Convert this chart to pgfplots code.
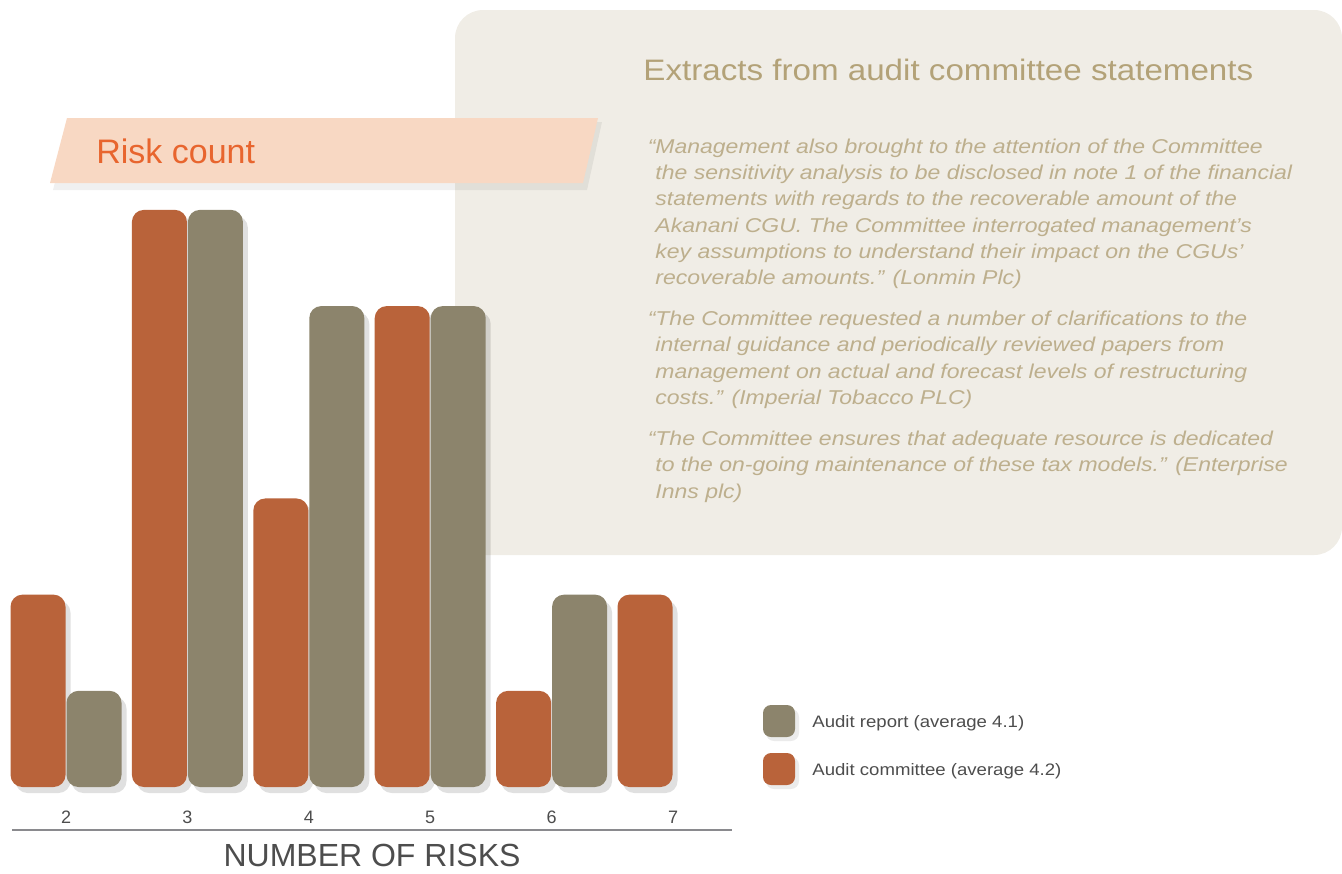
\documentclass[border=0pt]{standalone}
\usepackage{pgfplots}
\pgfplotsset{compat=1.18}
\usepackage{fontspec}
\setmainfont{Liberation Sans}
\newfontfamily\widefont{Liberation Sans}[FakeStretch=1.15]
\newfontfamily\legfont{Liberation Sans}[FakeStretch=1.12]

\definecolor{barorange}{HTML}{B9633A}
\definecolor{bargray}{HTML}{8C846C}
\definecolor{panelbg}{HTML}{F0EDE6}
\definecolor{gold}{HTML}{B3A278}
\definecolor{quotetxt}{HTML}{BDAF8D}
\definecolor{bannerbg}{HTML}{F8D8C3}
\definecolor{bannertxt}{HTML}{E8652E}
\definecolor{axisgray}{HTML}{8A8A8E}
\definecolor{labelgray}{HTML}{4D4D4D}

% one line of quoted text, y is the baseline in px
\newcommand\qline[2]{\node[anchor=base west, inner sep=0, text=quotetxt,
  font=\widefont\fontsize{10}{12}\selectfont\itshape] at (655,#1) {#2};}

\begin{document}
\begin{tikzpicture}
\begin{scope}[x=0.5pt,y=-0.5pt]
\path[use as bounding box] (0,0) rectangle (1342,870);
% panel
\fill[panelbg, rounded corners=14pt] (455,10) rectangle (1342,555);
\node[anchor=base west, inner sep=0, text=gold, font=\legfont\fontsize{14.8}{17}\selectfont]
  at (643,80) {Extracts from audit committee statements};
\qline{153}{\llap{“}Management also brought to the attention of the Committee}
\qline{179}{the sensitivity analysis to be disclosed in note 1 of the financial}
\qline{205}{statements with regards to the recoverable amount of the}
\qline{232}{Akanani CGU. The Committee interrogated management’s}
\qline{258}{key assumptions to understand their impact on the CGUs’}
\qline{284}{recoverable amounts.” (Lonmin Plc)}
\qline{325}{\llap{“}The Committee requested a number of clarifications to the}
\qline{351}{internal guidance and periodically reviewed papers from}
\qline{378}{management on actual and forecast levels of restructuring}
\qline{404}{costs.” (Imperial Tobacco PLC)}
\qline{445}{\llap{“}The Committee ensures that adequate resource is dedicated}
\qline{471}{to the on-going maintenance of these tax models.” (Enterprise}
\qline{498}{Inns plc)}
% banner
\fill[black, opacity=0.06] (70,122) -- (602,122) -- (587,190) -- (53,190) -- cycle;
\fill[bannerbg] (67,118) -- (598,118) -- (583,183) -- (50,183) -- cycle;
\node[anchor=base west, inner sep=0, text=bannertxt, font=\fontsize{17}{20}\selectfont]
  at (96,163) {Risk count};
% legend
\fill[black, opacity=0.08, rounded corners=4pt] (766,709) rectangle (799,741);
\fill[bargray, rounded corners=4pt] (763,705) rectangle (795,737);
\fill[black, opacity=0.08, rounded corners=4pt] (766,757) rectangle (799,789);
\fill[barorange, rounded corners=4pt] (763,753) rectangle (795,785);
\node[anchor=base west, inner sep=0, text=labelgray, font=\legfont\fontsize{8.3}{10}\selectfont]
  at (812,727) {Audit report (average 4.1)};
\node[anchor=base west, inner sep=0, text=labelgray, font=\legfont\fontsize{8.3}{10}\selectfont]
  at (812,775) {Audit committee (average 4.2)};
\end{scope}

\begin{axis}[
  at={(6pt,-415pt)}, anchor=south west,
  scale only axis, width=360pt, height=324.5pt,
  xmin=1.555, xmax=7.486, ymin=-0.447, ymax=6.3,
  axis x line*=bottom, axis y line=none,
  x axis line style={axisgray, line width=1pt, -},
  ytick=\empty, xtick={2,...,7}, major tick length=0pt,
  /pgf/number format/assume math mode=true,
  xticklabel style={anchor=center, yshift=6.5pt, text=labelgray,
    font=\fontsize{9}{10}\selectfont},
  xlabel={NUMBER OF RISKS},
  xlabel style={at={(axis description cs:0.5,0)}, anchor=center, yshift=-12.5pt,
    text=labelgray, font=\fontsize{16}{18}\selectfont},
  ybar, bar width=27.5pt,
  clip=false,
  every axis plot/.append style={draw=none, rounded corners=6pt,
    preaction={fill=black, opacity=0.12,
      transform canvas={xshift=2.5pt, yshift=-3pt}}},
]
\addplot[fill=barorange, bar shift=-14pt]
  coordinates {(2,2) (3,6) (4,3) (5,5) (6,1) (7,2)};
\addplot[fill=bargray, bar shift=14pt]
  coordinates {(2,1) (3,6) (4,5) (5,5) (6,2)};
\end{axis}
\end{tikzpicture}
\end{document}
